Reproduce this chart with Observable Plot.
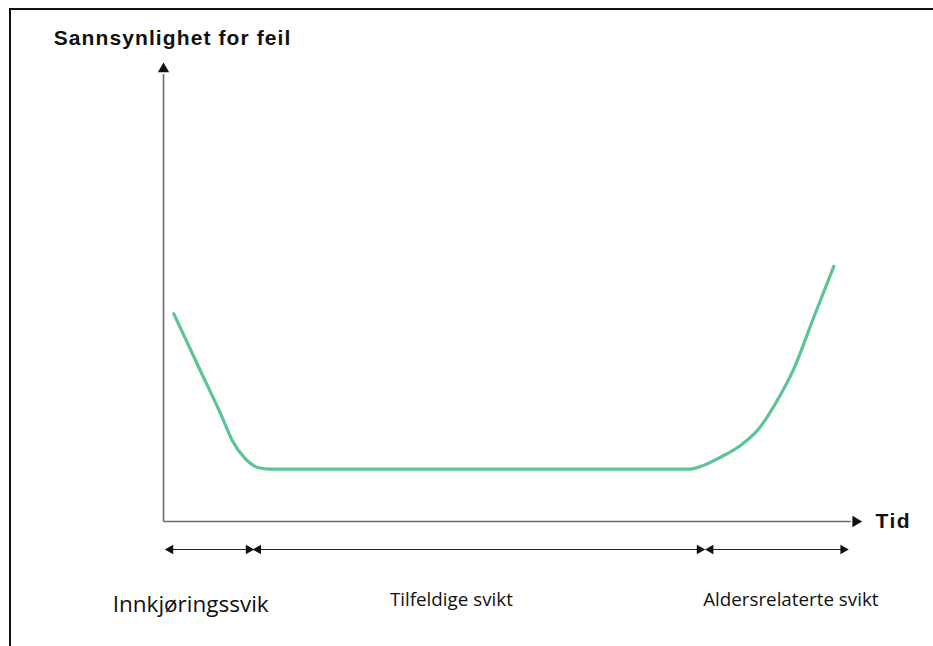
<!DOCTYPE html>
<html>
<head>
<meta charset="utf-8">
<script src="https://cdn.jsdelivr.net/npm/d3@7"></script>
<script src="https://cdn.jsdelivr.net/npm/@observablehq/plot@0.6"></script>
<style>
  html, body { margin: 0; padding: 0; background: #fff; }
  #wrap { position: relative; width: 933px; height: 646px; overflow: hidden; }
  #border { position: absolute; left: 9px; top: 8px; width: 940px; height: 660px;
            border-left: 2px solid #111; border-top: 2px solid #111; pointer-events: none; }
</style>
</head>
<body>
<div id="wrap"><div id="border"></div></div>
<script>
// Bathtub curve (time in 0..100, probability in 0..100)
const curveT = [1.48, 5.06, 8.42, 9.86, 11.76, 13.67, 15.2, 75.6, 77.04, 79.91, 82.78, 85.41, 88.05, 90.43, 93.3, 96.17];
const curveP = [45.25, 33.6, 22.7, 17.65, 13.66, 11.7, 11.4, 11.4, 11.98, 14.0, 16.56, 20.2, 26.36, 33.27, 44.5, 55.6];

// Phase spans (time)
const phaseNames = ["Innkjøringssvik", "Tilfeldige svikt", "Aldersrelaterte svikt"];
const phaseStart = [0.7, 13.3, 78.2];
const phaseEnd = [12.5, 77.2, 97.8];
const phaseLabelT = [3.9, 41.3, 90.0];
const phaseLabelP = [-18.2, -17.2, -17.2];
const phaseLabelSize = [22.5, 18.8, 18.8];

const yTitle = "Sannsynlighet for feil";
const xTitle = "Tid";

const curve = curveT.map((t, i) => ({t, p: curveP[i]}));
const phases = phaseNames.map((name, i) => ({name, s: phaseStart[i], e: phaseEnd[i], lt: phaseLabelT[i], lp: phaseLabelP[i], fs: phaseLabelSize[i]}));
const spanY = -6.1;

const axisColor = "#6b6b6b";

const chart = Plot.plot({
  width: 933,
  height: 646,
  marginLeft: 163,
  marginRight: 73,
  marginTop: 62,
  marginBottom: 125,
  x: {domain: [0, 100], axis: null},
  y: {domain: [0, 100], axis: null},
  style: {background: "transparent"},
  marks: [
    // axes
    Plot.link([0], {x1: 0, y1: 0, x2: 0, y2: 97.5, stroke: axisColor, strokeWidth: 1.6}),
    Plot.link([0], {x1: 0, y1: 0, x2: 98.6, y2: 0, stroke: axisColor, strokeWidth: 1.6}),
    Plot.dot([0], {x: 0, y: 98.6, symbol: "triangle", r: 4.2, fill: "#111", stroke: null}),
    Plot.dot([0], {x: 99.3, y: 0, symbol: "triangle", r: 4.2, fill: "#111", stroke: null, rotate: 90}),
    // curve
    Plot.line(curve, {x: "t", y: "p", stroke: "#5cc495", strokeWidth: 3.2, curve: "monotone-x"}),
    // phase spans
    Plot.link(phases, {x1: "s", x2: "e", y1: spanY, y2: spanY, stroke: "#222", strokeWidth: 1.1}),
    Plot.dot(phases, {x: "s", y: spanY, symbol: "triangle", r: 3.6, fill: "#111", stroke: null, rotate: -90, dx: 2}),
    Plot.dot(phases, {x: "e", y: spanY, symbol: "triangle", r: 3.6, fill: "#111", stroke: null, rotate: 90, dx: -2}),
    Plot.text(phases, {x: "lt", y: "lp", text: "name", fontSize: d => d.fs, fill: "#111",
      fontFamily: "Open Sans", textAnchor: "middle"}),
    // titles
    Plot.text([yTitle], {x: 1.3, y: 105.2, text: d => d, fontSize: 21, fontWeight: "bold",
      fontFamily: "Liberation Sans", fill: "#111"}),
    Plot.text([xTitle], {x: 104.7, y: 0, text: d => d, fontSize: 21, fontWeight: "bold",
      fontFamily: "Liberation Sans", fill: "#111"})
  ]
});
// slightly widen the bold titles, as in the original artwork
chart.querySelectorAll("text").forEach(t => {
  if (t.textContent === yTitle) t.setAttribute("letter-spacing", "1.1");
  if (t.textContent === xTitle) t.setAttribute("letter-spacing", "1.5");
});
document.getElementById("wrap").prepend(chart);
</script>
</body>
</html>
